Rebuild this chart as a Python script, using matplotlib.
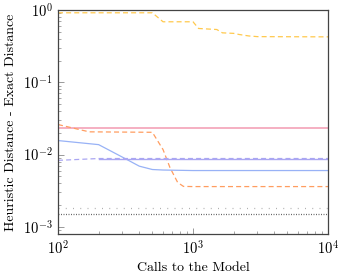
import matplotlib
matplotlib.use("Agg")
import matplotlib.pyplot as plt
from matplotlib.ticker import LogLocator, NullFormatter

plt.rcParams['font.family'] = ['cmr10']
plt.rcParams['mathtext.fontset'] = 'cm'
plt.rcParams['axes.formatter.use_mathtext'] = True

# Data
yellow_x = [100, 500, 600, 1000, 1100, 1500, 1650, 2000, 2200, 2600, 3000, 10000]
yellow_y = [0.915, 0.915, 0.687, 0.687, 0.555, 0.537, 0.483, 0.475, 0.458, 0.437, 0.428, 0.425]

pink_x = [100, 10000]
pink_y = [0.0233, 0.0233]

orange_x = [100, 170, 500, 600, 675, 770, 850, 1000, 10000]
orange_y = [0.026, 0.0206, 0.0203, 0.0117, 0.0066, 0.0041, 0.00362, 0.0036, 0.0036]

blue_x = [100, 200, 300, 400, 500, 600, 1000, 10000]
blue_y = [0.0156, 0.0137, 0.0092, 0.0069, 0.0062, 0.0061, 0.0060, 0.0060]

purple_dash_x = [100, 200, 10000]
purple_dash_y = [0.0083, 0.0088, 0.0088]
purple_x = [200, 10000]
purple_y = [0.0088, 0.0088]

gray_x = [100, 10000]
gray_y = [0.00182, 0.00182]
dark_x = [100, 10000]
dark_y = [0.00148, 0.00148]

fig = plt.figure(figsize=(3.42, 2.75), dpi=100)
ax = fig.add_axes([58/342, 1-234/275, 270/342, 224/275])

lw = 0.9
ax.plot(yellow_x, yellow_y, color='#ffc94d', lw=lw, dashes=(4, 2.5))
ax.plot(pink_x, pink_y, color='#f29ab2', lw=1.1)
ax.plot(orange_x, orange_y, color='#ff9d60', lw=lw, dashes=(4, 2.5))
ax.plot(blue_x, blue_y, color='#98b2f6', lw=lw)
ax.plot(purple_dash_x, purple_dash_y, color='#aaa6f2', lw=lw, dashes=(4, 2.5))
ax.plot(purple_x, purple_y, color='#aaa6f2', lw=1.0)
ax.plot(gray_x, gray_y, color='#b0b0b0', lw=lw, dashes=(0.8, 5))
ax.plot(dark_x, dark_y, color='#666666', lw=lw, dashes=(0.8, 1.2))

ax.set_xscale('log')
ax.set_yscale('log')
ax.set_xlim(100, 10000)
ax.set_ylim(10**-3.1, 1.0)

ax.xaxis.set_major_locator(LogLocator(base=10, numticks=10))
ax.yaxis.set_major_locator(LogLocator(base=10, numticks=10))
ax.xaxis.set_minor_locator(LogLocator(base=10, subs=range(2, 10), numticks=20))
ax.yaxis.set_minor_locator(LogLocator(base=10, subs=range(2, 10), numticks=20))
ax.xaxis.set_minor_formatter(NullFormatter())
ax.yaxis.set_minor_formatter(NullFormatter())

ax.tick_params(which='both', direction='in', top=False, right=False, color='#999999')
ax.tick_params(which='major', length=4, width=0.7, labelsize=10.5, pad=4)
ax.tick_params(which='minor', length=2, width=0.6)
for s in ax.spines.values():
    s.set_color('#444444')
    s.set_linewidth(0.9)

ax.set_xlabel('Calls to the Model', fontsize=10, labelpad=3)
ax.set_ylabel('Heuristic Distance - Exact Distance', fontsize=10, labelpad=4)

fig.savefig('out.png', dpi=100)
